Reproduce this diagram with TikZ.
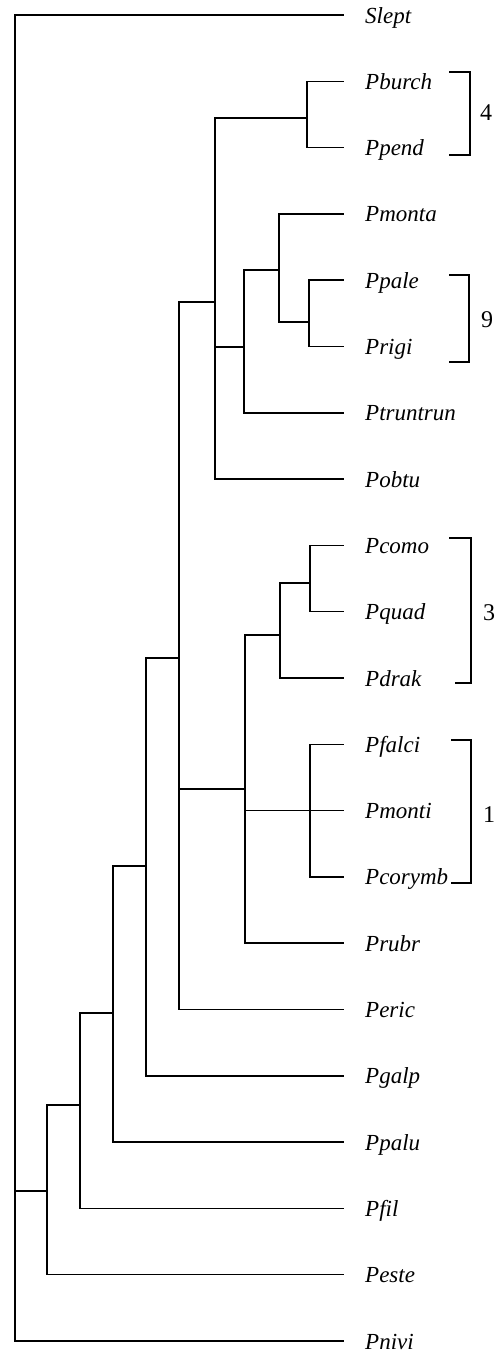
\documentclass[tikz,border=0pt]{standalone}
\usepackage{fontspec}
\setmainfont{Liberation Serif}
\usetikzlibrary{positioning}

\tikzset{
   branch/.style={line width=1.5pt, line cap=rect},
   taxon/.style={inner sep=0pt, text height=16pt, text depth=0pt,
      font=\fontsize{23}{23}\selectfont\itshape},
   clade/.style={line width=1.5pt},
   cladenum/.style={inner sep=0pt, font=\fontsize{24}{24}\selectfont}
}

\begin{document}
\begin{tikzpicture}[x=1pt,y=1pt]
   \useasboundingbox (0,0) rectangle (495,-1353);

   % leaf tips
   \coordinate                           (slept) at (343,-15);
   \coordinate[below=66.3pt of slept]    (burch);
   \coordinate[below=66.3pt of burch]    (pend);
   \coordinate[below=66.3pt of pend]     (monta);
   \coordinate[below=66.3pt of monta]    (pale);
   \coordinate[below=66.3pt of pale]     (rigi);
   \coordinate[below=66.3pt of rigi]     (trun);
   \coordinate[below=66.3pt of trun]     (obtu);
   \coordinate[below=66.3pt of obtu]     (como);
   \coordinate[below=66.3pt of como]     (quad);
   \coordinate[below=66.3pt of quad]     (drak);
   \coordinate[below=66.3pt of drak]     (falci);
   \coordinate[below=66.3pt of falci]    (monti);
   \coordinate[below=66.3pt of monti]    (corymb);
   \coordinate[below=66.3pt of corymb]   (rubr);
   \coordinate[below=66.3pt of rubr]     (eric);
   \coordinate[below=66.3pt of eric]     (galp);
   \coordinate[below=66.3pt of galp]     (palu);
   \coordinate[below=66.3pt of palu]     (fil);
   \coordinate[below=66.3pt of fil]      (este);
   \coordinate[below=66.3pt of este]     (nivi);

   % taxon names
   \node[taxon, right=22pt of slept]  (tslept)  {Slept};
   \node[taxon, right=22pt of burch]  (tburch)  {Pburch};
   \node[taxon, right=22pt of pend]   (tpend)   {Ppend};
   \node[taxon, right=22pt of monta]  (tmonta)  {Pmonta};
   \node[taxon, right=22pt of pale]   (tpale)   {Ppale};
   \node[taxon, right=22pt of rigi]   (trigi)   {Prigi};
   \node[taxon, right=22pt of trun]   (ttrun)   {Ptruntrun};
   \node[taxon, right=22pt of obtu]   (tobtu)   {Pobtu};
   \node[taxon, right=22pt of como]   (tcomo)   {Pcomo};
   \node[taxon, right=22pt of quad]   (tquad)   {Pquad};
   \node[taxon, right=22pt of drak]   (tdrak)   {Pdrak};
   \node[taxon, right=22pt of falci]  (tfalci)  {Pfalci};
   \node[taxon, right=22pt of monti]  (tmonti)  {Pmonti};
   \node[taxon, right=22pt of corymb] (tcorymb) {Pcorymb};
   \node[taxon, right=22pt of rubr]   (trubr)   {Prubr};
   \node[taxon, right=22pt of eric]   (teric)   {Peric};
   \node[taxon, right=22pt of galp]   (tgalp)   {Pgalp};
   \node[taxon, right=22pt of palu]   (tpalu)   {Ppalu};
   \node[taxon, right=22pt of fil]    (tfil)    {Pfil};
   \node[taxon, right=22pt of este]   (teste)   {Peste};
   \node[taxon, right=22pt of nivi]   (tnivi)   {Pnivi};

   % internal nodes
   \coordinate (root) at (15,-1191);
   \coordinate (na)   at (47,-1191);
   \coordinate (nb)   at (80,-1105);
   \coordinate (nc)   at (113,-1013);
   \coordinate (nd)   at (146,-866);
   \coordinate (ne)   at (179,-658);
   \coordinate (nf)   at (215,-302);
   \coordinate (bp)   at (307,-118);
   \coordinate (nh)   at (244,-347);
   \coordinate (ni)   at (279,-270);
   \coordinate (pr)   at (309,-322);
   \coordinate (ng)   at (245,-789);
   \coordinate (nj)   at (280,-635);
   \coordinate (cq)   at (310,-583);
   \coordinate (fc)   at (310,-816);

   % branches
   \draw[branch] (slept) -| (root);
   \draw[branch] (nivi) -| (root);
   \draw[branch] (na) -- (root);
   \draw[branch] (nb) -| (na);
   \draw[branch] (este) -| (na);
   \draw[branch] (nc) -| (nb);
   \draw[branch] (fil) -| (nb);
   \draw[branch] (nd) -| (nc);
   \draw[branch] (palu) -| (nc);
   \draw[branch] (ne) -| (nd);
   \draw[branch] (galp) -| (nd);
   \draw[branch] (nf) -| (ne);
   \draw[branch] (ng) -| (ne);
   \draw[branch] (eric) -| (ne);
   \draw[branch] (bp) -| (nf);
   \draw[branch] (nh) -| (nf);
   \draw[branch] (obtu) -| (nf);
   \draw[branch] (burch) -| (bp);
   \draw[branch] (pend) -| (bp);
   \draw[branch] (ni) -| (nh);
   \draw[branch] (trun) -| (nh);
   \draw[branch] (monta) -| (ni);
   \draw[branch] (pr) -| (ni);
   \draw[branch] (pale) -| (pr);
   \draw[branch] (rigi) -| (pr);
   \draw[branch] (nj) -| (ng);
   \draw[branch] (monti) -| (ng);
   \draw[branch] (rubr) -| (ng);
   \draw[branch] (cq) -| (nj);
   \draw[branch] (drak) -| (nj);
   \draw[branch] (como) -| (cq);
   \draw[branch] (quad) -| (cq);
   \draw[branch] (falci) -| (fc);
   \draw[branch] (corymb) -| (fc);

   % clade brackets
   \draw[clade] (449,-72) -| (470,-155) -- (449,-155);
   \node[cladenum] (c4) at (486,-113) {4};
   \draw[clade] (449,-275) -| (469,-362) -- (449,-362);
   \node[cladenum] (c9) at (487,-320) {9};
   \draw[clade] (449,-538) -| (471,-683) -- (455,-683);
   \node[cladenum] (c3) at (489,-613) {3};
   \draw[clade] (451,-740) -| (471,-883) -- (451,-883);
   \node[cladenum] (c1) at (489,-815) {1};

\end{tikzpicture}
\end{document}
